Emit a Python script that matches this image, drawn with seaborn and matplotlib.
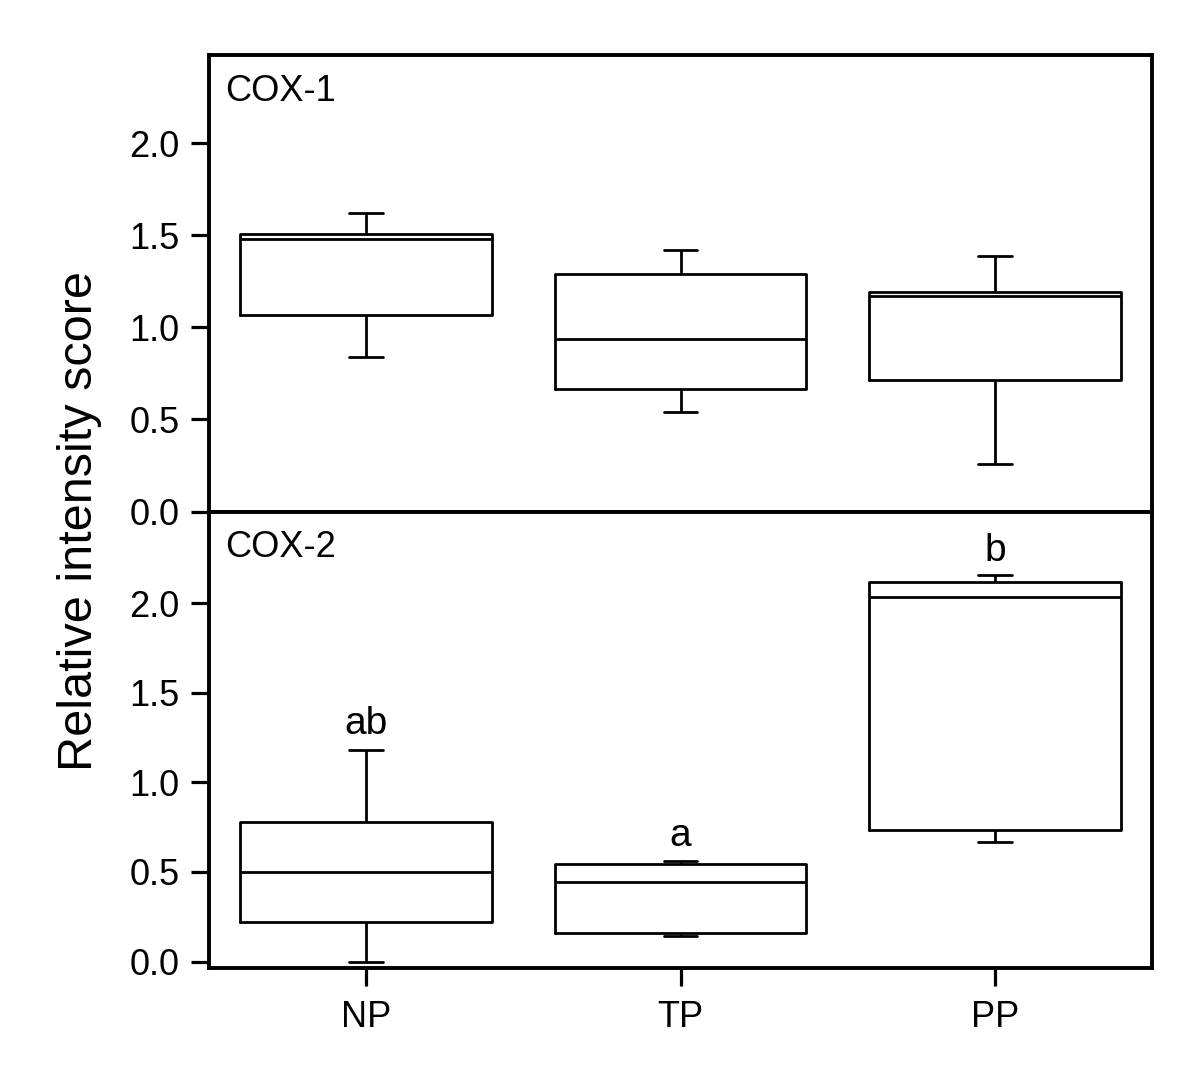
import numpy as np
import pandas as pd
import seaborn as sns
import matplotlib.pyplot as plt

# five-number summaries (whisker low, Q1, median, Q3, whisker high)
groups = ["NP", "TP", "PP"]

cox1_np = [0.84, 1.07, 1.48, 1.51, 1.62]
cox1_tp = [0.54, 0.665, 0.935, 1.29, 1.42]
cox1_pp = [0.26, 0.715, 1.17, 1.19, 1.39]

cox2_np = [0.0, 0.22, 0.50, 0.78, 1.18]
cox2_tp = [0.143, 0.157, 0.446, 0.546, 0.559]
cox2_pp = [0.668, 0.733, 2.037, 2.12, 2.156]

panel_names = ["COX-1", "COX-2"]
letters = ["ab", "a", "b"]
letter_y = [1.27, 0.645, 2.236]


def long_frame(vals_list):
    rows = []
    for g, vals in zip(groups, vals_list):
        for v in vals:
            rows.append({"group": g, "score": v})
    return pd.DataFrame(rows)


df1 = long_frame([cox1_np, cox1_tp, cox1_pp])
df2 = long_frame([cox2_np, cox2_tp, cox2_pp])

sns.set_style("ticks")
plt.rcParams['font.family'] = ['Liberation Sans', 'DejaVu Sans']
plt.rcParams['text.color'] = 'black'
plt.rcParams['xtick.labelcolor'] = 'black'
plt.rcParams['ytick.labelcolor'] = 'black'

fig = plt.figure(figsize=(12, 10.86), dpi=100)
ax1 = fig.add_axes([0.1742, 0.529, 0.7858, 0.4203])
ax2 = fig.add_axes([0.1742, 0.1082, 0.7858, 0.4208])

box_kws = dict(x="group", y="score", order=groups, fill=False, color="black",
               whis=(0, 100), width=0.8, linewidth=2.0, capwidths=0.108)

sns.boxplot(data=df1, ax=ax1, **box_kws)
sns.boxplot(data=df2, ax=ax2, **box_kws)

ax1.set_ylim(0, 2.48)
ax2.set_ylim(-0.039, 2.513)

for ax, name in zip([ax1, ax2], panel_names):
    ax.set_xlim(-0.5, 2.5)
    ax.set_yticks([0.0, 0.5, 1.0, 1.5, 2.0])
    ax.set_yticklabels(["0.0", "0.5", "1.0", "1.5", "2.0"])
    ax.set_xlabel("")
    ax.set_ylabel("")
    for s in ax.spines.values():
        s.set_visible(True)
        s.set_linewidth(2.8)
        s.set_color("black")
    ax.tick_params(axis="y", length=13, width=2.3, labelsize=26, pad=8, color="black")
    ax.text(0.017, 0.90, name, transform=ax.transAxes, fontsize=26, ha="left", va="baseline")

ax1.tick_params(axis="x", bottom=False, labelbottom=False)
ax2.tick_params(axis="x", length=13, width=2.3, labelsize=26, pad=10, color="black")

for i, (t, y) in enumerate(zip(letters, letter_y)):
    ax2.text(i, y, t, fontsize=28, ha="center", va="baseline")

fig.text(80 / 1200, 1 - 521 / 1086, "Relative intensity score", rotation=90,
         fontsize=35, ha="center", va="center")

fig.savefig("out.png", dpi=100)
